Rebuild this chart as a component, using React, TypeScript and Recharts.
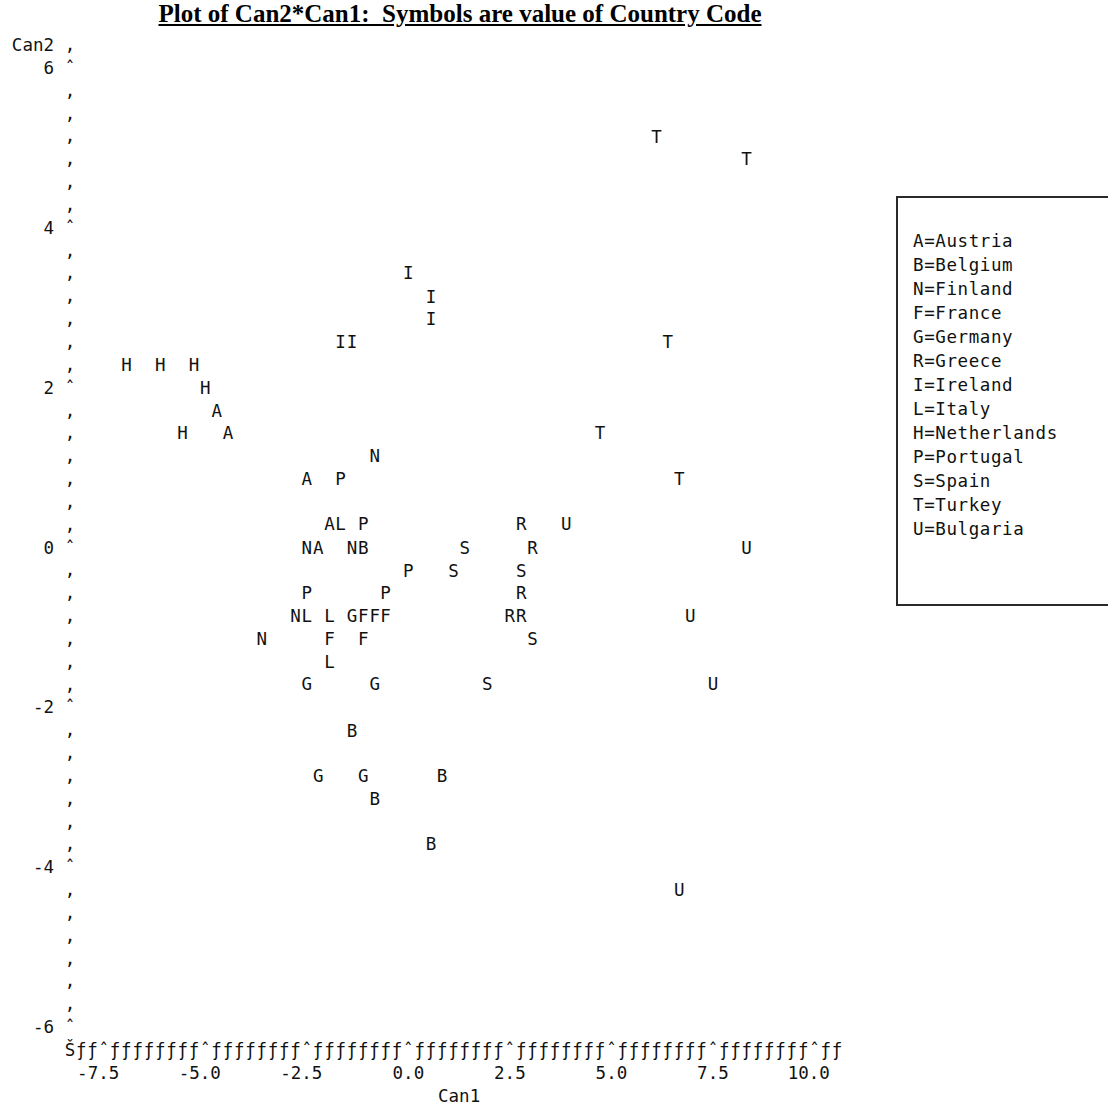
import { ScatterChart, Scatter, XAxis, YAxis, Legend } from "recharts";

// symbol codes and country names, in legend order
const codes = ["A", "B", "N", "F", "G", "R", "I", "L", "H", "P", "S", "T", "U"];
const countries = [
  "Austria", "Belgium", "Finland", "France", "Germany", "Greece", "Ireland",
  "Italy", "Netherlands", "Portugal", "Spain", "Turkey", "Bulgaria",
];

// [Can1, Can2] per country
const austria = [[-4.72, 1.71], [-4.44, 1.43], [-2.5, 0.86], [-1.94, 0.29], [-2.22, 0]];
const belgium = [[-1.11, 0], [-1.39, -2.29], [0.83, -2.86], [-0.83, -3.14], [0.56, -3.71]];
const finland = [[-0.83, 1.14], [-2.5, 0], [-1.39, 0], [-2.78, -0.86], [-3.61, -1.14]];
const france = [[-1.11, -0.86], [-0.83, -0.86], [-0.56, -0.86], [-1.94, -1.14], [-1.11, -1.14]];
const germany = [[-1.39, -0.86], [-2.5, -1.71], [-0.83, -1.71], [-2.22, -2.86], [-1.11, -2.86]];
const greece = [[2.78, 0.29], [3.06, 0], [2.78, -0.57], [2.5, -0.86], [2.78, -0.86]];
const ireland = [[0, 3.43], [0.56, 3.14], [0.56, 2.86], [-1.67, 2.57], [-1.39, 2.57]];
const italy = [[-1.67, 0.29], [-2.5, -0.86], [-1.94, -0.86], [-1.94, -1.43]];
const netherlands = [[-6.94, 2.29], [-6.11, 2.29], [-5.28, 2.29], [-5.0, 2.0], [-5.56, 1.43]];
const portugal = [[-1.67, 0.86], [-1.11, 0.29], [0, -0.29], [-2.5, -0.57], [-0.56, -0.57]];
const spain = [[1.39, 0], [1.11, -0.29], [2.78, -0.29], [3.06, -1.14], [1.94, -1.71]];
const turkey = [[6.11, 5.14], [8.33, 4.86], [6.39, 2.57], [4.72, 1.43], [6.67, 0.86]];
const bulgaria = [[3.89, 0.29], [8.33, 0], [6.94, -0.86], [7.5, -1.71], [6.67, -4.29]];

const series = [
  austria, belgium, finland, france, germany, greece, ireland,
  italy, netherlands, portugal, spain, turkey, bulgaria,
];

const xTickValues = [-7.5, -5, -2.5, 0, 2.5, 5, 7.5, 10];
const xTickLabels = ["-7.5", "-5.0", "-2.5", "0.0", "2.5", "5.0", "7.5", "10.0"];
const yTickValues = [6, 4, 2, 0, -2, -4, -6];
const yTickLabels = ["6", "4", "2", "0", "-2", "-4", "-6"];

const W = 1108;
const H = 1106;
const MARGIN = { top: 45, right: 271, bottom: 0, left: 0 };
const Y_AXIS_W = 70;
const X_AXIS_H = 79;
const PLOT_W = W - MARGIN.left - MARGIN.right - Y_AXIS_W;
const PLOT_H = H - MARGIN.top - MARGIN.bottom - X_AXIS_H;

// line-printer grid: 9 columns per 2.5 units, 7 rows per 2 units
const COL_STEP = 2.5 / 9;
const ROW_STEP = 2 / 7;
const xCols = Array.from({ length: 69 }, (_, i) => -7.5 + (i - 3) * COL_STEP);
const yRows = Array.from({ length: 44 }, (_, i) => 6 + ROW_STEP - i * ROW_STEP);
const COL_PX = PLOT_W / (xCols.length - 1);
const ROW_PX = PLOT_H / (yRows.length - 1);

const MONO = "'DejaVu Sans Mono', 'Liberation Mono', monospace";
const INK = "#111";
const FS = 17.5;

function findLabel(values: number[], labels: string[], v: number) {
  const i = values.findIndex((t) => Math.abs(t - v) < 1e-6);
  return i >= 0 ? labels[i] : null;
}

function XTick({ x, y, payload }: any) {
  const c = Math.round((payload.value - xCols[0]) / COL_STEP);
  const glyph = c === 0 ? "Š" : (c - 3) % 9 === 0 ? "ˆ" : "ƒ";
  const label = findLabel(xTickValues, xTickLabels, payload.value);
  return (
    <g fontFamily={MONO} fontSize={FS} fill={INK}>
      <text x={x} y={y + ROW_PX} dy="0.35em" textAnchor="middle">
        {glyph}
      </text>
      {label && (
        <text
          x={x - (label.length % 2 === 0 ? COL_PX / 2 : 0)}
          y={y + 2 * ROW_PX}
          dy="0.35em"
          textAnchor="middle"
        >
          {label}
        </text>
      )}
    </g>
  );
}

function YTick({ x, y, payload }: any) {
  const label = findLabel(yTickValues, yTickLabels, payload.value);
  return (
    <g fontFamily={MONO} fontSize={FS} fill={INK}>
      <text x={x} y={y} dy="0.35em" textAnchor="middle">
        {label ? "ˆ" : "‚"}
      </text>
      {label && (
        <text x={x - 16} y={y} dy="0.35em" textAnchor="end">
          {label}
        </text>
      )}
    </g>
  );
}

function YName({ viewBox }: any) {
  return (
    <text
      x={viewBox.x + viewBox.width - 16}
      y={viewBox.y}
      dy="0.35em"
      textAnchor="end"
      fontFamily={MONO}
      fontSize={FS}
      fill={INK}
    >
      Can2
    </text>
  );
}

function XName({ viewBox }: any) {
  return (
    <text
      x={viewBox.x + viewBox.width / 2 + COL_PX / 2}
      y={viewBox.y + 3 * ROW_PX}
      dy="0.35em"
      textAnchor="middle"
      fontFamily={MONO}
      fontSize={FS}
      fill={INK}
    >
      Can1
    </text>
  );
}

const letterShape = (code: string) => (props: any) => (
  <text
    x={props.cx}
    y={props.cy}
    dy="0.35em"
    textAnchor="middle"
    fontFamily={MONO}
    fontSize={FS}
    fill={INK}
  >
    {code}
  </text>
);

function CodeLegend() {
  return (
    <div
      style={{
        boxSizing: "border-box",
        width: 216,
        height: 410,
        border: "2px solid #2a2a2a",
        padding: "31px 0 0 15px",
        fontFamily: MONO,
        fontSize: FS,
        lineHeight: "24px",
        letterSpacing: 0.6,
        color: INK,
        textAlign: "left",
      }}
    >
      {codes.map((c, i) => (
        <div key={c}>
          {c}={countries[i]}
        </div>
      ))}
    </div>
  );
}

export default function App() {
  return (
    <div
      style={{
        position: "absolute",
        left: 0,
        top: 0,
        width: W,
        height: H,
        overflow: "hidden",
        background: "#fff",
      }}
    >
      <div
        style={{
          position: "absolute",
          left: 460,
          top: 1,
          transform: "translateX(-50%)",
          whiteSpace: "pre",
          fontFamily: "'Liberation Serif', 'Times New Roman', serif",
          fontWeight: "bold",
          fontSize: 25,
          lineHeight: "25px",
          textDecoration: "underline",
          color: "#000",
          zIndex: 2,
        }}
      >
        {"Plot of Can2*Can1:  Symbols are value of Country Code"}
      </div>
      <ScatterChart width={W} height={H} margin={MARGIN}>
        <XAxis
          type="number"
          dataKey="can1"
          domain={[xCols[0], xCols[xCols.length - 1]]}
          ticks={xCols}
          interval={0}
          height={X_AXIS_H}
          axisLine={false}
          tickLine={false}
          tickSize={0}
          tickMargin={0}
          tick={(p: any) => <XTick {...p} />}
          label={(p: any) => <XName {...p} />}
        />
        <YAxis
          type="number"
          dataKey="can2"
          domain={[yRows[yRows.length - 1], yRows[0]]}
          ticks={yRows}
          interval={0}
          width={Y_AXIS_W}
          axisLine={false}
          tickLine={false}
          tickSize={0}
          tickMargin={0}
          tick={(p: any) => <YTick {...p} />}
          label={(p: any) => <YName {...p} />}
        />
        <Legend
          layout="horizontal"
          verticalAlign="middle"
          align="center"
          wrapperStyle={{ left: 896, top: 196, width: 216, height: 410 }}
          content={() => <CodeLegend />}
        />
        {series.map((pts, i) => (
          <Scatter
            key={codes[i]}
            name={countries[i]}
            data={pts.map(([can1, can2]) => ({ can1, can2 }))}
            shape={letterShape(codes[i])}
            isAnimationActive={false}
          />
        ))}
      </ScatterChart>
    </div>
  );
}
